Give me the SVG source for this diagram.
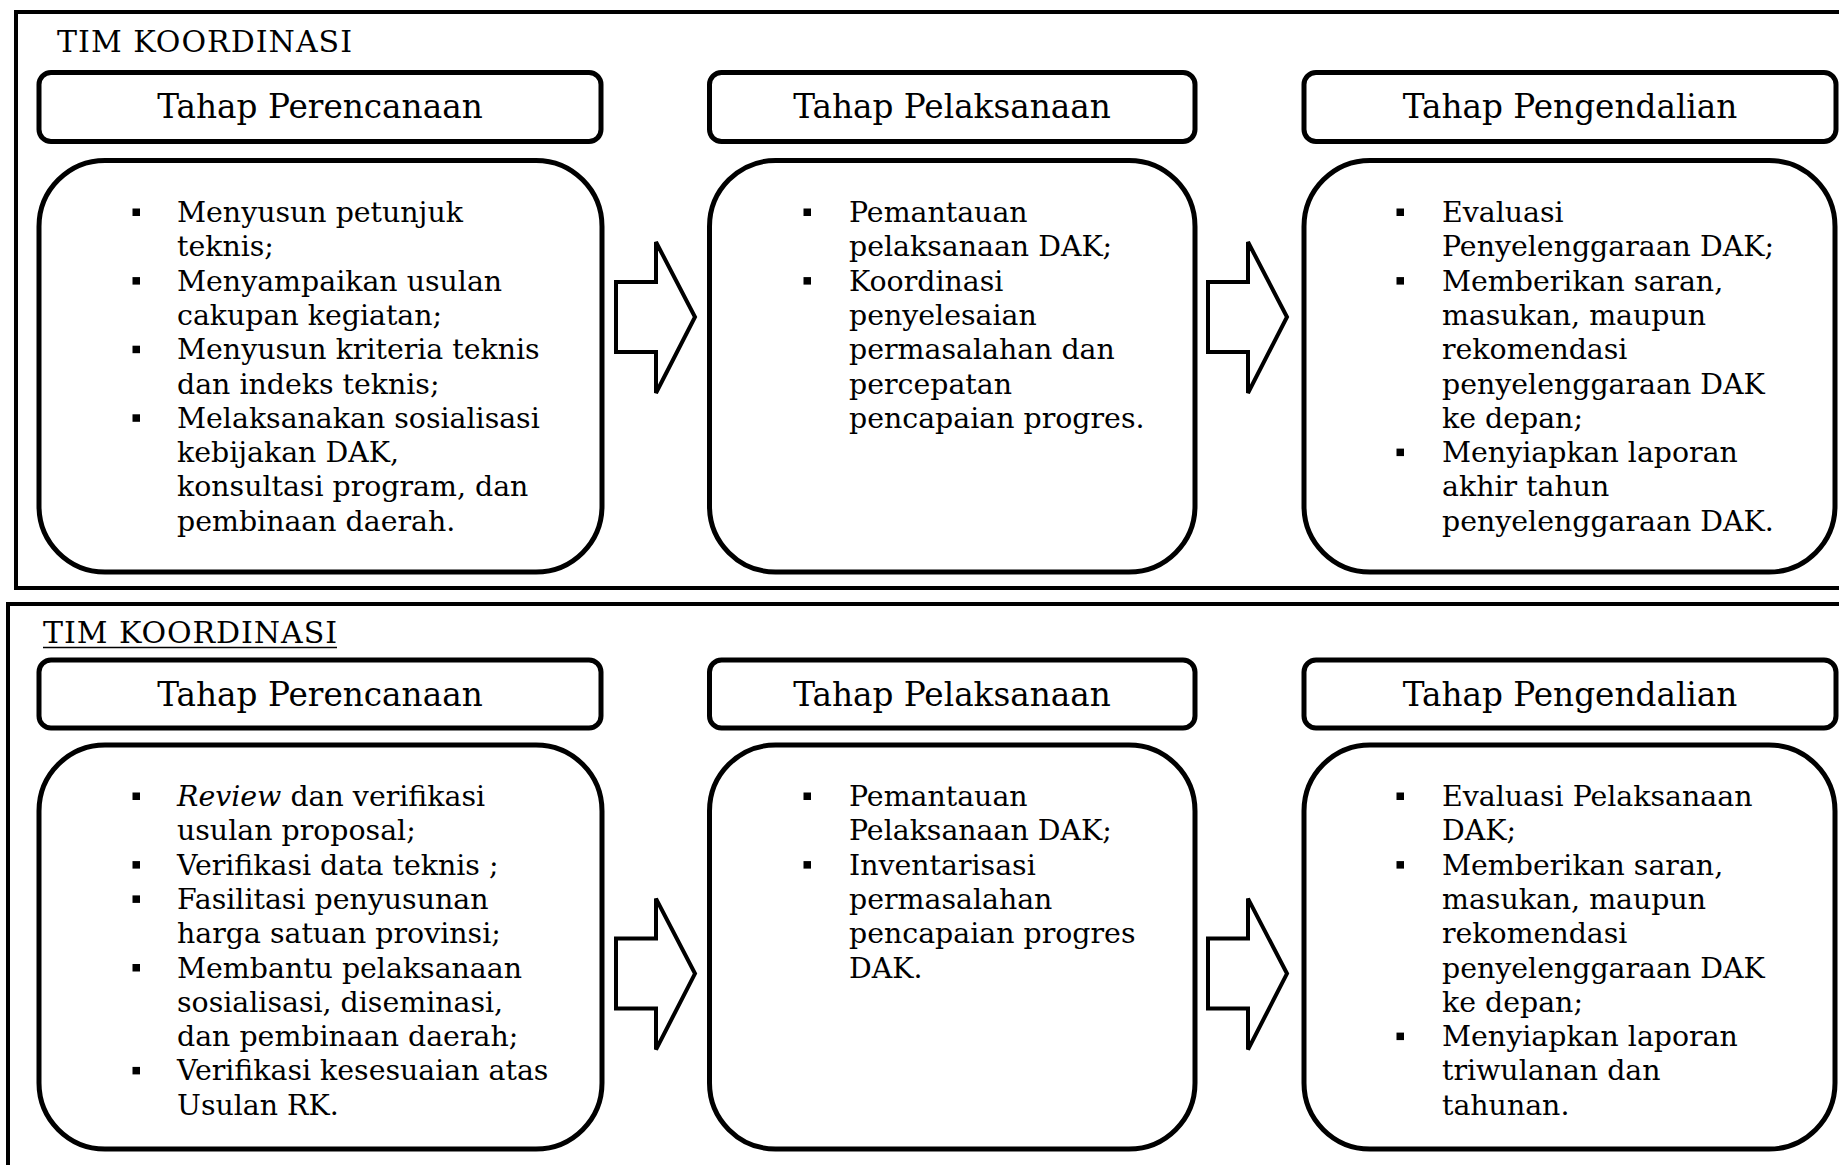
<svg xmlns="http://www.w3.org/2000/svg" width="1839" height="1165" viewBox="0 0 1839 1165">
<style>
.frame{fill:none;stroke:#000;stroke-width:4}
.hdr{fill:#fff;stroke:#000;stroke-width:5}
.body{fill:#fff;stroke:#000;stroke-width:5}
.arrow{fill:#fff;stroke:#000;stroke-width:4;stroke-linejoin:miter}
.title{font-family:"DejaVu Serif","Liberation Serif",serif;font-size:30px;fill:#000}
.htext{font-family:"DejaVu Serif","Liberation Serif",serif;font-size:32.7px;fill:#000;text-anchor:middle}
.bt{font-family:"DejaVu Serif","Liberation Serif",serif;font-size:28.4px;fill:#000}
</style>
<defs>
<rect id="b" width="7.5" height="7.5" fill="#000"/>
</defs>
<rect x="0" y="0" width="1839" height="1165" fill="#fff"/>
<rect class="frame" x="16" y="12" width="1900" height="576"/>
<rect class="frame" x="8" y="604" width="1900" height="700"/>
<text class="title" x="57" y="52" textLength="295" lengthAdjust="spacing">TIM KOORDINASI</text>
<text class="title" x="43" y="643" textLength="294" lengthAdjust="spacing">TIM KOORDINASI</text>
<line x1="43" y1="647.5" x2="337" y2="647.5" stroke="#000" stroke-width="1.6"/>

<g id="top-perencanaan">
<rect class="hdr" x="39" y="72.5" width="562" height="69" rx="12"/>
<text class="htext" x="320" y="118">Tahap Perencanaan</text>
<rect class="body" x="39" y="160.5" width="563" height="411.5" rx="66"/>
<use href="#b" x="132.5" y="208.5"/><use href="#b" x="132.5" y="277.1"/><use href="#b" x="132.5" y="345.7"/><use href="#b" x="132.5" y="414.3"/>
<text class="bt">
<tspan x="177" y="222">Menyusun petunjuk</tspan>
<tspan x="177" y="256.3">teknis;</tspan>
<tspan x="177" y="290.6">Menyampaikan usulan</tspan>
<tspan x="177" y="324.9">cakupan kegiatan;</tspan>
<tspan x="177" y="359.2">Menyusun kriteria teknis</tspan>
<tspan x="177" y="393.5">dan indeks teknis;</tspan>
<tspan x="177" y="427.8">Melaksanakan sosialisasi</tspan>
<tspan x="177" y="462.1">kebijakan DAK,</tspan>
<tspan x="177" y="496.4">konsultasi program, dan</tspan>
<tspan x="177" y="530.7">pembinaan daerah.</tspan>
</text>
</g>

<g id="top-pelaksanaan">
<rect class="hdr" x="709.5" y="72.5" width="485.5" height="69" rx="12"/>
<text class="htext" x="952" y="118">Tahap Pelaksanaan</text>
<rect class="body" x="709.5" y="160.5" width="485.5" height="411.5" rx="66"/>
<use href="#b" x="803.5" y="208.5"/><use href="#b" x="803.5" y="277.1"/>
<text class="bt">
<tspan x="849" y="222">Pemantauan</tspan>
<tspan x="849" y="256.3">pelaksanaan DAK;</tspan>
<tspan x="849" y="290.6">Koordinasi</tspan>
<tspan x="849" y="324.9">penyelesaian</tspan>
<tspan x="849" y="359.2">permasalahan dan</tspan>
<tspan x="849" y="393.5">percepatan</tspan>
<tspan x="849" y="427.8">pencapaian progres.</tspan>
</text>
</g>

<g id="top-pengendalian">
<rect class="hdr" x="1304" y="72.5" width="532" height="69" rx="12"/>
<text class="htext" x="1570" y="118">Tahap Pengendalian</text>
<rect class="body" x="1304" y="160.5" width="531" height="411.5" rx="66"/>
<use href="#b" x="1396.5" y="208.5"/><use href="#b" x="1396.5" y="277.1"/><use href="#b" x="1396.5" y="448.6"/>
<text class="bt">
<tspan x="1442" y="222">Evaluasi</tspan>
<tspan x="1442" y="256.3">Penyelenggaraan DAK;</tspan>
<tspan x="1442" y="290.6">Memberikan saran,</tspan>
<tspan x="1442" y="324.9">masukan, maupun</tspan>
<tspan x="1442" y="359.2">rekomendasi</tspan>
<tspan x="1442" y="393.5">penyelenggaraan DAK</tspan>
<tspan x="1442" y="427.8">ke depan;</tspan>
<tspan x="1442" y="462.1">Menyiapkan laporan</tspan>
<tspan x="1442" y="496.4">akhir tahun</tspan>
<tspan x="1442" y="530.7">penyelenggaraan DAK.</tspan>
</text>
</g>

<g id="bottom-perencanaan">
<rect class="hdr" x="39" y="660" width="562" height="68" rx="12"/>
<text class="htext" x="320" y="706">Tahap Perencanaan</text>
<rect class="body" x="39" y="745" width="563" height="404" rx="66"/>
<use href="#b" x="132.5" y="792.5"/><use href="#b" x="132.5" y="861.1"/><use href="#b" x="132.5" y="895.4"/><use href="#b" x="132.5" y="964"/><use href="#b" x="132.5" y="1066.9"/>
<text class="bt">
<tspan x="177" y="806" font-style="italic">Review</tspan><tspan> dan verifikasi</tspan>
<tspan x="177" y="840.3">usulan proposal;</tspan>
<tspan x="177" y="874.6">Verifikasi data teknis ;</tspan>
<tspan x="177" y="908.9">Fasilitasi penyusunan</tspan>
<tspan x="177" y="943.2">harga satuan provinsi;</tspan>
<tspan x="177" y="977.5">Membantu pelaksanaan</tspan>
<tspan x="177" y="1011.8">sosialisasi, diseminasi,</tspan>
<tspan x="177" y="1046.1">dan pembinaan daerah;</tspan>
<tspan x="177" y="1080.4">Verifikasi kesesuaian atas</tspan>
<tspan x="177" y="1114.7">Usulan RK.</tspan>
</text>
</g>

<g id="bottom-pelaksanaan">
<rect class="hdr" x="709.5" y="660" width="485.5" height="68" rx="12"/>
<text class="htext" x="952" y="706">Tahap Pelaksanaan</text>
<rect class="body" x="709.5" y="745" width="485.5" height="404" rx="66"/>
<use href="#b" x="803.5" y="792.5"/><use href="#b" x="803.5" y="861.1"/>
<text class="bt">
<tspan x="849" y="806">Pemantauan</tspan>
<tspan x="849" y="840.3">Pelaksanaan DAK;</tspan>
<tspan x="849" y="874.6">Inventarisasi</tspan>
<tspan x="849" y="908.9">permasalahan</tspan>
<tspan x="849" y="943.2">pencapaian progres</tspan>
<tspan x="849" y="977.5">DAK.</tspan>
</text>
</g>

<g id="bottom-pengendalian">
<rect class="hdr" x="1304" y="660" width="532" height="68" rx="12"/>
<text class="htext" x="1570" y="706">Tahap Pengendalian</text>
<rect class="body" x="1304" y="745" width="531" height="404" rx="66"/>
<use href="#b" x="1396.5" y="792.5"/><use href="#b" x="1396.5" y="861.1"/><use href="#b" x="1396.5" y="1032.6"/>
<text class="bt">
<tspan x="1442" y="806">Evaluasi Pelaksanaan</tspan>
<tspan x="1442" y="840.3">DAK;</tspan>
<tspan x="1442" y="874.6">Memberikan saran,</tspan>
<tspan x="1442" y="908.9">masukan, maupun</tspan>
<tspan x="1442" y="943.2">rekomendasi</tspan>
<tspan x="1442" y="977.5">penyelenggaraan DAK</tspan>
<tspan x="1442" y="1011.8">ke depan;</tspan>
<tspan x="1442" y="1046.1">Menyiapkan laporan</tspan>
<tspan x="1442" y="1080.4">triwulanan dan</tspan>
<tspan x="1442" y="1114.7">tahunan.</tspan>
</text>
</g>

<g id="connectors">
<polygon class="arrow" points="616,282 656,282 656,242 695,317 656,393 656,352 616,352"/>
<polygon class="arrow" points="1208,282 1248,282 1248,242 1287,317 1248,393 1248,352 1208,352"/>
<polygon class="arrow" points="616,938.6 656,938.6 656,898.6 695,973.6 656,1049.6 656,1008.6 616,1008.6"/>
<polygon class="arrow" points="1208,938.6 1248,938.6 1248,898.6 1287,973.6 1248,1049.6 1248,1008.6 1208,1008.6"/>
</g>
</svg>
